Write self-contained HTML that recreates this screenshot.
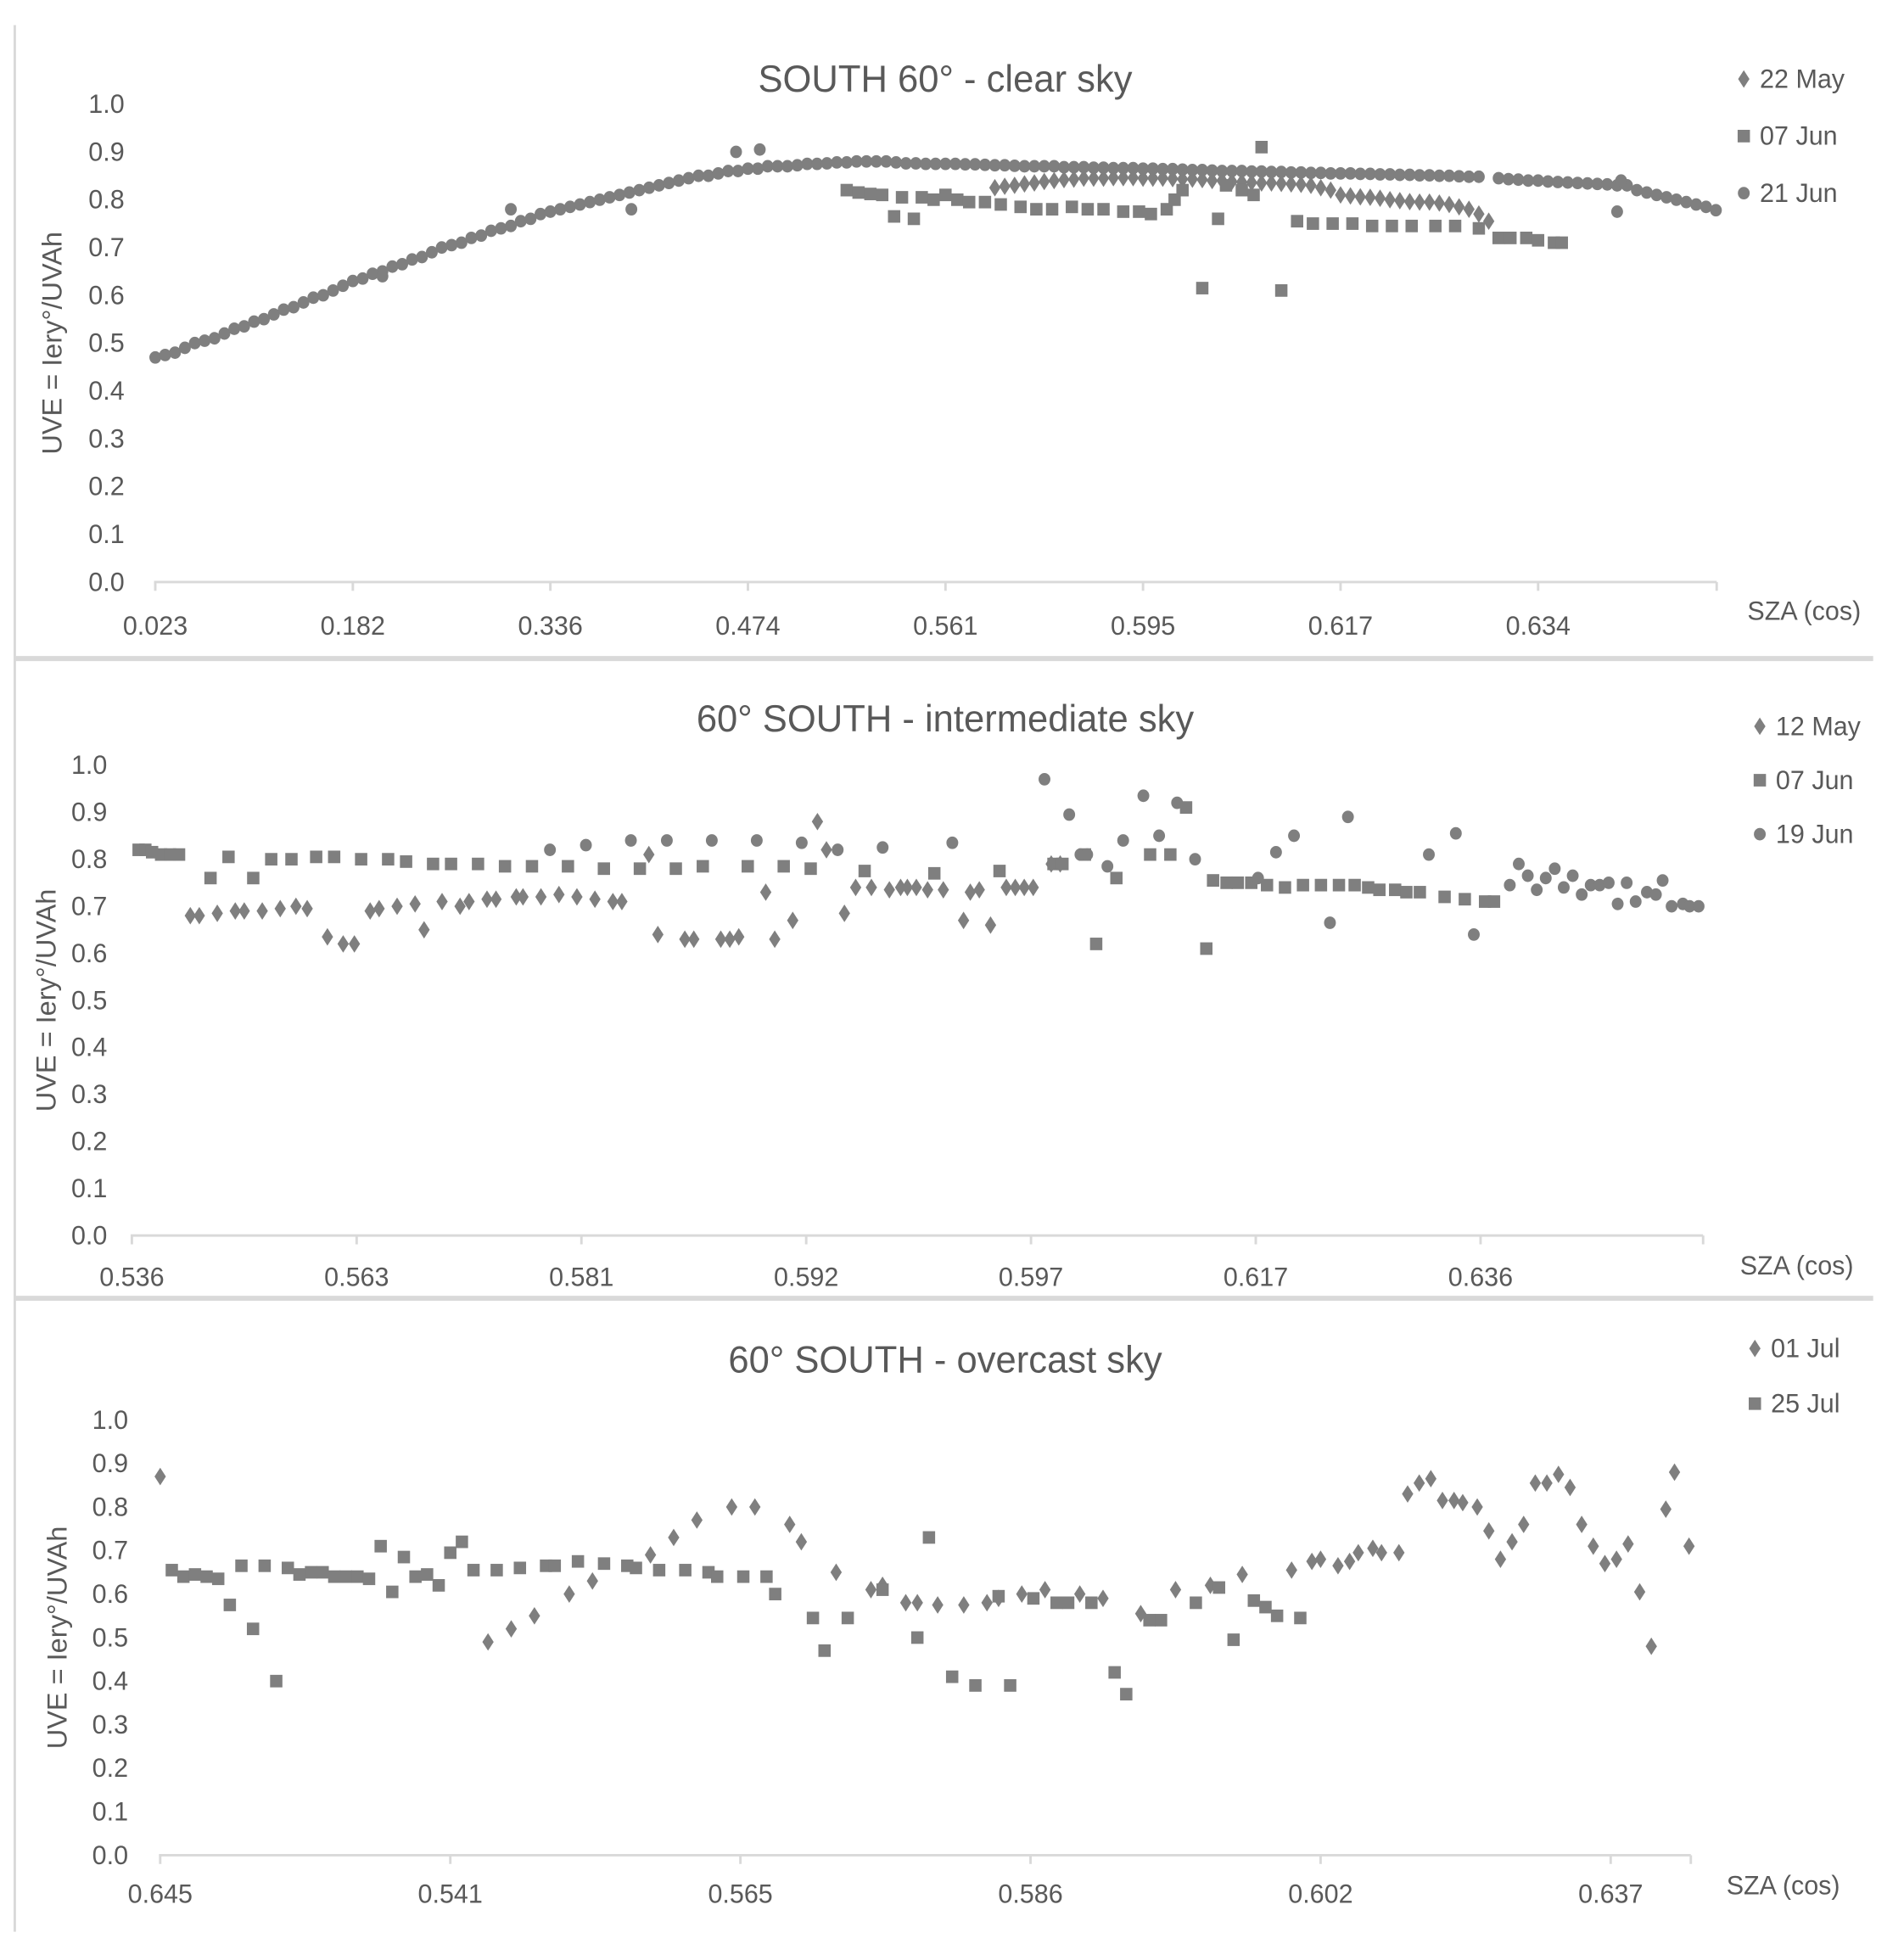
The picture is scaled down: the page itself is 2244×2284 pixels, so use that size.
<!DOCTYPE html>
<html><head><meta charset="utf-8"><style>
html,body{margin:0;padding:0;background:#fff;}
svg{display:block;}
text{font-family:"Liberation Sans",sans-serif;fill:#595959;}
</style></head><body>
<svg id="chart" width="2244" height="2284" viewBox="0 0 1545 1545" preserveAspectRatio="none" xmlns="http://www.w3.org/2000/svg">
<rect x="0" y="0" width="1545" height="1545" fill="#fff"/>
<line x1="12" y1="20" x2="12" y2="1540" stroke="#d9d9d9" stroke-width="2"/>
<line x1="12" y1="525" x2="1520" y2="525" stroke="#d9d9d9" stroke-width="4"/>
<line x1="12" y1="1035" x2="1520" y2="1035" stroke="#d9d9d9" stroke-width="4"/>
</svg>
<script>
// ---- Panel 1: clear sky ----
const p1Ticks = ["0.023","0.182","0.336","0.474","0.561","0.595","0.617","0.634"];
const p1JunStep = 0.05;
const p1Jun21 = [0.47,0.475,0.48,0.49,0.50,0.505,0.51,0.52,0.53,0.535,0.545,0.55,0.56,0.57,0.575,0.585,0.595,0.60,0.61,0.62,0.63,
0.635,0.645,0.65,0.66,0.665,0.675,0.68,0.69,0.70,0.705,0.71,0.72,0.725,0.735,0.74,0.745,0.755,0.76,0.77,0.775,
0.78,0.785,0.79,0.795,0.80,0.805,0.81,0.815,0.82,0.825,0.83,0.835,0.84,0.845,0.85,0.85,0.855,0.86,0.86,0.865,
0.865,0.87,0.87,0.87,0.872,0.875,0.875,0.876,0.878,0.878,0.88,0.88,0.88,0.88,0.878,0.876,0.876,0.875,0.875,0.875,
0.875,0.874,0.874,0.873,0.872,0.872,0.871,0.87,0.87,0.87,0.87,0.868,0.868,0.868,0.867,0.867,0.866,0.866,0.866,0.865,
0.865,0.864,0.864,0.863,0.862,0.862,0.861,0.86,0.86,0.86,0.859,0.859,0.858,0.858,0.857,0.857,0.856,0.856,0.855,0.855,
0.855,0.854,0.854,0.853,0.853,0.852,0.852,0.851,0.851,0.85,0.85,0.849,0.848,0.848,null,
0.845,0.843,0.842,0.84,0.84,0.838,0.837,0.836,0.835,0.834,0.833,0.832,0.83,0.83,0.82,0.815,0.81,0.805,0.80,0.795,0.79,0.785,0.778];
const p1Jun21OutX = [1.80,2.41,2.94,3.06,1.15,7.40,7.42];
const p1Jun21OutY = [0.78,0.78,0.90,0.905,0.64,0.775,0.84];
const p1May22Start = 4.25;
const p1May22 = [0.825,0.828,0.83,0.833,0.835,0.838,0.84,0.842,0.843,0.845,0.845,
0.845,0.846,0.846,0.846,0.845,0.845,0.845,0.844,0.843,0.843,0.842,0.84,0.84,0.838,0.837,
0.836,0.835,0.835,0.834,0.833,0.832,0.83,0.825,0.82,0.81,
0.808,0.806,0.805,0.803,0.80,0.798,0.796,0.795,0.795,0.793,0.79,0.785,0.78,0.77,0.755];
const p1Jun07X = [3.50,3.56,3.62,3.68,3.74,3.78,3.84,3.88,3.94,4.0,4.06,4.12,4.2,4.28,4.38,4.46,4.54,4.64,4.72,4.8,4.9,4.98,5.04,5.12,5.16,5.2,5.3,5.38,5.42,5.5,5.56,5.6,5.7,5.78,5.86,5.96,6.06,6.16,6.26,6.36,6.48,6.58,6.7,6.8,6.86,6.94,7.0,7.08,7.12];
const p1Jun07Y = [0.82,0.815,0.812,0.81,0.765,0.805,0.76,0.805,0.80,0.81,0.80,0.795,0.795,0.79,0.785,0.78,0.78,0.785,0.78,0.78,0.775,0.775,0.77,0.78,0.80,0.82,0.615,0.76,0.83,0.82,0.81,0.91,0.61,0.755,0.75,0.75,0.75,0.745,0.745,0.745,0.745,0.745,0.74,0.72,0.72,0.72,0.715,0.71,0.71];

// ---- Panel 2: intermediate sky ----
const p2Ticks = ["0.536","0.563","0.581","0.592","0.597","0.617","0.636"];
const p2Jun07X = [0.03,0.06,0.09,0.13,0.17,0.21,0.35,0.43,0.54,0.62,0.71,0.82,0.90,1.02,1.14,1.22,1.34,1.42,1.54,1.66,1.78,1.94,2.10,2.26,2.42,2.54,2.74,2.90,3.02,3.26,3.57,3.86,4.10,4.14,4.24,4.29,4.38,4.53,4.62,4.69,4.78,4.81,4.87,4.92,4.98,5.05,5.13,5.21,5.29,5.37,5.44,5.50,5.55,5.62,5.67,5.73,5.84,5.93,6.02,6.06];
const p2Jun07Y = [0.82,0.82,0.815,0.81,0.81,0.81,0.76,0.805,0.76,0.80,0.80,0.805,0.805,0.80,0.80,0.795,0.79,0.79,0.79,0.785,0.785,0.785,0.78,0.78,0.78,0.785,0.785,0.785,0.78,0.775,0.77,0.775,0.79,0.79,0.81,0.62,0.76,0.81,0.81,0.91,0.61,0.755,0.75,0.75,0.75,0.745,0.74,0.745,0.745,0.745,0.745,0.74,0.735,0.735,0.73,0.73,0.72,0.715,0.71,0.71];
const p2May12X = [0.26,0.30,0.38,0.46,0.50,0.58,0.66,0.73,0.78,0.87,0.94,0.99,1.06,1.10,1.18,1.26,1.30,1.38,1.46,1.50,1.58,1.62,1.71,1.74,1.82,1.90,1.98,2.06,2.14,2.18,2.30,2.34,2.46,2.50,2.62,2.66,2.70,2.82,2.86,2.94,3.05,3.09,3.17,3.22,3.29,3.37,3.42,3.45,3.49,3.54,3.61,3.70,3.73,3.77,3.82,3.89,3.93,3.97,4.01,4.09,4.13];
const p2May12Y = [0.68,0.68,0.685,0.69,0.69,0.69,0.695,0.70,0.695,0.635,0.62,0.62,0.69,0.695,0.70,0.705,0.65,0.71,0.70,0.71,0.715,0.715,0.72,0.72,0.72,0.725,0.72,0.715,0.71,0.71,0.81,0.64,0.63,0.63,0.63,0.63,0.635,0.73,0.63,0.67,0.88,0.82,0.685,0.74,0.74,0.735,0.74,0.74,0.74,0.735,0.735,0.67,0.73,0.735,0.66,0.74,0.74,0.74,0.74,0.79,0.79];
const p2Jun19X = [1.86,2.02,2.22,2.38,2.58,2.78,2.98,3.14,3.34,3.65,4.06,4.17,4.22,4.25,4.34,4.41,4.50,4.57,4.65,4.73,5.01,5.09,5.17,5.33,5.41,5.77,5.89,5.97,6.13,6.17,6.21,6.25,6.29,6.33,6.37,6.41,6.45,6.49,6.53,6.57,6.61,6.65,6.69,6.74,6.78,6.81,6.85,6.90,6.93,6.97];
const p2Jun19Y = [0.82,0.83,0.84,0.84,0.84,0.84,0.835,0.82,0.825,0.835,0.97,0.895,0.81,0.81,0.785,0.84,0.935,0.85,0.92,0.80,0.76,0.815,0.85,0.665,0.89,0.81,0.855,0.64,0.745,0.79,0.765,0.735,0.76,0.78,0.74,0.765,0.725,0.745,0.745,0.75,0.705,0.75,0.71,0.73,0.725,0.755,0.70,0.705,0.70,0.70];

// ---- Panel 3: overcast sky ----
const p3Ticks = ["0.645","0.541","0.565","0.586","0.602","0.637"];
const p3Jul01X = [0,1.13,1.21,1.29,1.41,1.49,1.69,1.77,1.85,1.97,2.05,2.17,2.21,2.33,2.45,2.49,2.57,2.61,2.68,2.77,2.85,2.89,2.97,3.05,3.17,3.25,3.38,3.50,3.62,3.73,3.90,3.97,4.00,4.06,4.10,4.13,4.18,4.21,4.27,4.30,4.34,4.38,4.42,4.46,4.49,4.54,4.58,4.62,4.66,4.70,4.74,4.78,4.82,4.86,4.90,4.94,4.98,5.02,5.06,5.10,5.14,5.19,5.22,5.27];
const p3Jul01Y = [0.87,0.49,0.52,0.55,0.60,0.63,0.69,0.73,0.77,0.80,0.80,0.76,0.72,0.65,0.61,0.62,0.58,0.58,0.575,0.575,0.58,0.59,0.60,0.61,0.60,0.59,0.555,0.61,0.62,0.645,0.655,0.675,0.68,0.665,0.675,0.695,0.705,0.695,0.695,0.83,0.855,0.865,0.815,0.815,0.81,0.80,0.745,0.68,0.72,0.76,0.855,0.855,0.875,0.845,0.76,0.71,0.67,0.68,0.715,0.605,0.48,0.795,0.88,0.71];
const p3Jul25X = [0.04,0.08,0.12,0.16,0.20,0.24,0.28,0.32,0.36,0.40,0.44,0.48,0.52,0.56,0.60,0.64,0.68,0.72,0.76,0.80,0.84,0.88,0.92,0.96,1.00,1.04,1.08,1.16,1.24,1.33,1.36,1.44,1.53,1.61,1.64,1.72,1.81,1.89,1.92,2.01,2.09,2.12,2.25,2.29,2.37,2.49,2.61,2.65,2.73,2.81,2.89,2.93,3.01,3.09,3.13,3.21,3.29,3.33,3.41,3.45,3.57,3.65,3.70,3.77,3.81,3.85,3.93];
const p3Jul25Y = [0.655,0.64,0.645,0.64,0.635,0.575,0.665,0.52,0.665,0.40,0.66,0.645,0.65,0.65,0.64,0.64,0.64,0.635,0.71,0.605,0.685,0.64,0.645,0.62,0.695,0.72,0.655,0.655,0.66,0.665,0.665,0.675,0.67,0.665,0.66,0.655,0.655,0.65,0.64,0.64,0.64,0.60,0.545,0.47,0.545,0.61,0.50,0.73,0.41,0.39,0.595,0.39,0.59,0.58,0.58,0.58,0.42,0.37,0.54,0.54,0.58,0.615,0.495,0.585,0.57,0.55,0.545];

const NS = "http://www.w3.org/2000/svg";
const svg = document.getElementById('chart');
function mk(tag, attrs, parent){
  const e = document.createElementNS(NS, tag);
  for (const k in attrs) e.setAttribute(k, attrs[k]);
  (parent||svg).appendChild(e);
  return e;
}
const MC = "#7f7f7f";
function marker(g, shape, cx, cy){
  let e;
  if (shape==='diamond') e = mk('polygon',{points:`${cx},${cy-7} ${cx+4.6},${cy} ${cx},${cy+7} ${cx-4.6},${cy}`,fill:MC},g);
  else if (shape==='square') e = mk('rect',{x:cx-5,y:cy-5,width:10,height:10,fill:MC},g);
  else e = mk('ellipse',{cx:cx,cy:cy,rx:4.8,ry:5,fill:MC},g);
  return e;
}
function panel(cfg){
  const g = mk('g',{});
  
  
  const xs = u => cfg.x0 + u*cfg.dx;
  const ys = v => cfg.yb - v*(cfg.yb-cfg.yt);
  const t = mk('text',{x:cfg.tx,y:cfg.ty,'text-anchor':'middle','font-size':30},g);
  t.textContent = cfg.title;
  
  
  for (let i=0;i<=10;i++){
    const v = i/10;
    const l = mk('text',{x:cfg.ylx,y:ys(v)+7,'text-anchor':'end','font-size':21},g);
    l.textContent = v.toFixed(1);
    
    
  }
  const yt = mk('text',{x:0,y:0,'text-anchor':'middle','font-size':22,transform:`translate(${cfg.ytx},${(cfg.yt+cfg.yb)/2}) rotate(-90)`},g);
  yt.textContent = "UVE = Iery°/UVAh";
  
  
  const ax = mk('line',{x1:cfg.x0-1,y1:cfg.yb,x2:cfg.xend,y2:cfg.yb,stroke:'#d9d9d9','stroke-width':2},g);
  
  
  cfg.ticks.forEach((lab,i)=>{
    mk('line',{x1:xs(i),y1:cfg.yb,x2:xs(i),y2:cfg.yb+7,stroke:'#d9d9d9','stroke-width':2},g);
    const tl = mk('text',{x:xs(i),y:cfg.tly,'text-anchor':'middle','font-size':21},g);
    tl.textContent = lab;
    
    
  });
  mk('line',{x1:cfg.xend,y1:cfg.yb,x2:cfg.xend,y2:cfg.yb+7,stroke:'#d9d9d9','stroke-width':2},g);
  const xt = mk('text',{x:cfg.xtx,y:cfg.xty,'text-anchor':'middle','font-size':21},g);
  xt.textContent = "SZA (cos)";
  
  
  cfg.series.forEach(s=>{
    const sg = mk('g',{},g);
    
    
    s.x.forEach((u,i)=>{
      const v = s.y[i];
      if (v===null || v===undefined) return;
      const m = marker(sg, s.shape, xs(u), ys(v));
      
      
    });
  });
  cfg.legend.forEach((s,i)=>{
    const lg = mk('g',{},g);
    
    
    const ly = cfg.ly0 + i*cfg.ldy;
    marker(lg, s.shape, cfg.lx, ly-7);
    const lt = mk('text',{x:cfg.lx+13,y:ly,'font-size':21},lg);
    lt.textContent = s.label;
  });
}
function stepX(start, step, n){ const a=[]; for(let i=0;i<n;i++) a.push(+(start+i*step).toFixed(3)); return a; }

const s1May = {label:"22 May",shape:'diamond',x:stepX(p1May22Start,0.05,p1May22.length),y:p1May22};
const s1Jun07 = {label:"07 Jun",shape:'square',x:p1Jun07X,y:p1Jun07Y};
const s1Jun21 = {label:"21 Jun",shape:'circle',x:stepX(0,p1JunStep,p1Jun21.length),y:p1Jun21};
const s1Out = {label:"21 Jun out",shape:'circle',x:p1Jun21OutX,y:p1Jun21OutY};
panel({name:'clear-sky-chart',title:"SOUTH 60° - clear sky",tx:767,ty:73,x0:126,dx:160.3,xend:1393,yt:83,yb:464,ylx:101,ytx:50,
  ticks:p1Ticks,tly:506,xtx:1464,xty:494,lx:1415,ly0:70,ldy:45.5,
  series:[s1Jun21,s1Out,s1May,s1Jun07],legend:[s1May,s1Jun07,s1Jun21]});

const s2May = {label:"12 May",shape:'diamond',x:p2May12X,y:p2May12Y};
const s2Jun07 = {label:"07 Jun",shape:'square',x:p2Jun07X,y:p2Jun07Y};
const s2Jun19 = {label:"19 Jun",shape:'circle',x:p2Jun19X,y:p2Jun19Y};
panel({name:'intermediate-sky-chart',title:"60° SOUTH - intermediate sky",tx:767,ty:583,x0:107,dx:182.4,xend:1382,yt:610,yb:985,ylx:87,ytx:45,
  ticks:p2Ticks,tly:1025,xtx:1458,xty:1016,lx:1428,ly0:586,ldy:43,
  series:[s2May,s2Jun07,s2Jun19],legend:[s2May,s2Jun07,s2Jun19]});

const s3Jul01 = {label:"01 Jul",shape:'diamond',x:p3Jul01X,y:p3Jul01Y};
const s3Jul25 = {label:"25 Jul",shape:'square',x:p3Jul25X,y:p3Jul25Y};
panel({name:'overcast-sky-chart',title:"60° SOUTH - overcast sky",tx:767,ty:1094,x0:130,dx:235.4,xend:1372,yt:1132,yb:1479,ylx:104,ytx:54,
  ticks:p3Ticks,tly:1517,xtx:1447,xty:1510,lx:1424,ly0:1082,ldy:44,
  series:[s3Jul01,s3Jul25],legend:[s3Jul01,s3Jul25]});
</script>
</body></html>
